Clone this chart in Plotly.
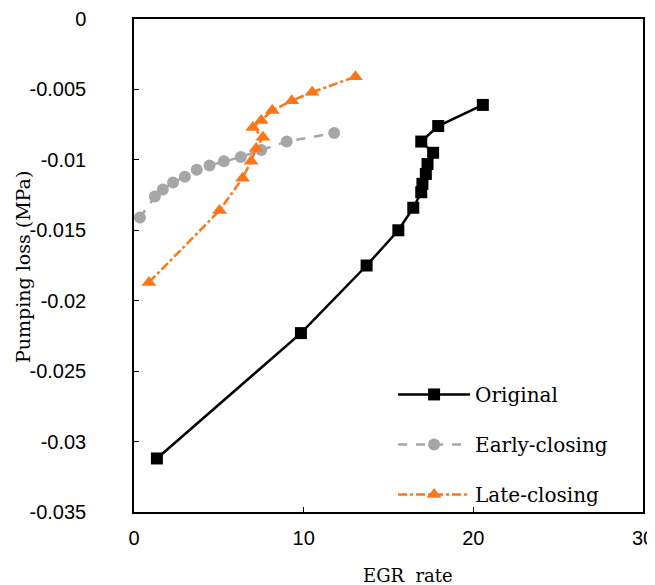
import plotly.graph_objects as go

# Original
orig_x = [1.35, 9.84, 13.71, 15.58, 16.46, 16.93, 17.0, 17.2, 17.3, 17.63, 16.93, 17.93, 20.56]
orig_y = [-0.0312, -0.0223, -0.0175, -0.0150, -0.0134, -0.0123, -0.0117, -0.0110, -0.0103, -0.0095, -0.0087, -0.0076, -0.0061]

# Early-closing
early_x = [0.35, 1.23, 1.7, 2.3, 3.0, 3.7, 4.45, 5.3, 6.3, 7.5, 9.0, 11.8]
early_y = [-0.0141, -0.0126, -0.0121, -0.0116, -0.0112, -0.0107, -0.0104, -0.0101, -0.0098, -0.0093, -0.0087, -0.0081]

# Late-closing
late_x = [0.88, 5.04, 6.4, 6.9, 7.2, 7.6, 7.0, 7.5, 8.15, 9.3, 10.5, 13.05]
late_y = [-0.0187, -0.0136, -0.0113, -0.0101, -0.0092, -0.0084, -0.0077, -0.0072, -0.0065, -0.0058, -0.0052, -0.0041]

x_ticks = [0, 10, 20, 30]
y_ticks = [0, -0.005, -0.01, -0.015, -0.02, -0.025, -0.03, -0.035]
y_tick_text = ["0", "-0.005", "-0.01", "-0.015", "-0.02", "-0.025", "-0.03", "-0.035"]
x_title = "EGR  rate"
y_title = "Pumping loss (MPa)"

SERIF = "DejaVu Serif"
TICKF = "Liberation Sans"

fig = go.Figure()
fig.add_trace(go.Scatter(
    x=orig_x, y=orig_y, name="Original", mode="lines+markers", legendgroup="a",
    line=dict(color="black", width=2.5),
    marker=dict(symbol="square", size=12, color="black")))
fig.add_trace(go.Scatter(
    x=early_x, y=early_y, name="Early-closing", mode="lines+markers", legendgroup="b",
    line=dict(color="#a6a6a6", width=2.5, dash="dash"),
    marker=dict(symbol="circle", size=12, color="#a6a6a6")))
fig.add_trace(go.Scatter(
    x=late_x, y=late_y, name="Late-closing", mode="lines+markers", legendgroup="c",
    line=dict(color="#ff7518", width=2.5, dash="dashdot"),
    marker=dict(symbol="triangle-up", size=13, color="#ff7518")))

fig.update_layout(
    width=647, height=577,
    margin=dict(l=126, r=12, t=11, b=73),
    paper_bgcolor="white", plot_bgcolor="white",
    font=dict(family=SERIF, size=18, color="black"),
    showlegend=True,
    legend=dict(x=0.509, y=0.278, xanchor="left", yanchor="top",
                bgcolor="rgba(0,0,0,0)", font=dict(size=20, family=SERIF),
                tracegroupgap=21, itemwidth=72),
    xaxis=dict(range=[0, 30], tickvals=x_ticks, ticks="inside", ticklen=5,
               tickcolor="black", showline=True, linecolor="black", linewidth=1.5,
               mirror=True, showgrid=False, zeroline=False, automargin=False,
               tickfont=dict(family=TICKF, size=20), ticklabeloverflow="allow",
               ticklabelstandoff=7),
    yaxis=dict(range=[-0.035, 0], tickvals=y_ticks, ticktext=y_tick_text,
               ticks="inside", ticklen=5, tickcolor="black",
               showline=True, linecolor="black", linewidth=1.5, mirror=True,
               showgrid=False, zeroline=False, automargin=False,
               ticklabelstandoff=42, ticklabeloverflow="allow",
               tickfont=dict(family=TICKF, size=20)),
    annotations=[
        dict(text=x_title, xref="paper", yref="paper", x=0.538, y=-0.128,
             xanchor="center", yanchor="middle", showarrow=False,
             font=dict(size=18, family=SERIF)),
        dict(text=y_title, xref="paper", yref="paper", x=-0.218, y=0.497,
             xanchor="center", yanchor="middle", showarrow=False, textangle=-90,
             font=dict(size=19, family=SERIF)),
    ],
)

fig.write_html("out.html")
